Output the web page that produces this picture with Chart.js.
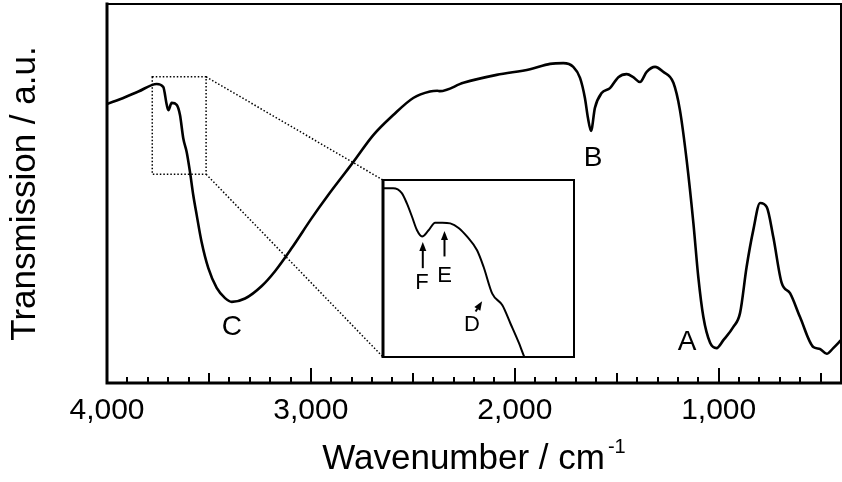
<!DOCTYPE html>
<html>
<head>
<meta charset="utf-8">
<script src="https://cdn.jsdelivr.net/npm/chart.js@4.4.1/dist/chart.umd.min.js"></script>
<style>
  html, body { margin: 0; padding: 0; background: #fff; }
  #wrap { position: relative; width: 842px; height: 482px; }
  #mainChart { position: absolute; left: 0; top: 0; }
  #insetChart { position: absolute; left: 381px; top: 178px; }
</style>
</head>
<body>
<div id="wrap">
  <canvas id="mainChart" width="842" height="482"></canvas>
  <canvas id="insetChart" width="195" height="181"></canvas>
</div>
<script>
// IR spectrum (wavenumber in cm-1, transmission in a.u. 0-100)
const wavenumbers = [4000, 3912, 3846, 3756, 3724, 3707, 3699, 3683, 3658, 3642, 3626, 3609, 3593, 3577,
  3560, 3536, 3503, 3462, 3421, 3388, 3323, 3241, 3176, 3094, 2996, 2915, 2833, 2792, 2694, 2596,
  2498, 2416, 2380, 2367, 2252, 2089, 1925, 1827, 1762, 1713, 1680, 1656, 1641, 1626, 1607, 1574,
  1533, 1492, 1451, 1419, 1386, 1353, 1312, 1272, 1222, 1190, 1157, 1124, 1100, 1075, 1042, 1010,
  977, 928, 895, 863, 830, 797, 764, 732, 691, 650, 601, 536, 503, 470, 438, 400];
const transmission = [73.6, 75.4, 76.9, 78.9, 78.1, 73.4, 72.0, 73.9, 73.4, 70.7, 64.6, 60.9, 55.7, 49.6,
  44.3, 37.2, 30.3, 25.1, 22.4, 21.4, 22.3, 25.6, 29.5, 35.6, 43.5, 49.6, 55.4, 58.3, 65.4, 70.7,
  75.2, 76.9, 77.1, 77.0, 79.2, 81.3, 82.8, 84.2, 84.4, 83.4, 80.5, 75.2, 69.9, 66.5, 72.6, 76.5,
  77.8, 80.7, 81.5, 80.7, 79.4, 82.1, 83.4, 82.1, 79.2, 72.0, 58.8, 42.2, 28.0, 17.4, 10.6, 9.2,
  11.3, 14.8, 18.5, 30.6, 40.4, 47.5, 46.4, 38.5, 26.4, 23.7, 17.4, 9.5, 9.0, 7.7, 9.2, 11.3];
const xTickValues = [4000, 3000, 2000, 1000];

// band labels on the main spectrum
const bandLabels = ['A', 'B', 'C'];
const bandWave = [1155, 1616, 3387];
const bandTrans = [10.8, 59.4, 14.8];

// dotted zoom window (wavenumber left/right, transmission bottom/top)
const zoomWave = [3778, 3514];
const zoomTrans = [55.1, 80.8];

// inset: magnified 3778-3514 cm-1 region
const insetWave = [3778, 3764, 3752, 3745, 3738, 3731, 3724, 3715, 3706, 3696, 3685, 3673, 3662,
  3648, 3639, 3627, 3613, 3602, 3590, 3583, 3575];
const insetTrans = [79.6, 79.6, 78.9, 77.4, 75.5, 73.5, 72.6, 73.5, 74.6, 74.6, 74.5, 73.8, 72.6,
  70.6, 68.2, 64.3, 62.6, 60.0, 57.1, 55.2, 53.5];
const insetLabels = ['F', 'E', 'D'];
const insetLabelWave = [3724, 3693, 3655];
const insetLabelTrans = [65.8, 66.9, 59.7];
// arrows: [fromWave, fromTrans, toWave, toTrans]
const insetArrows = [[3723, 68.0, 3723, 71.8], [3693, 69.7, 3693, 73.4], [3650, 61.7, 3641, 63.2]];

const FONT = "'Liberation Sans', Arial, sans-serif";
const insetBox = { left: 383, top: 180, right: 574, bottom: 357 };

function arrow(ctx, x1, y1, x2, y2) {
  const ang = Math.atan2(y2 - y1, x2 - x1);
  const hl = 9, hw = 3.5;
  const bx = x2 - hl * Math.cos(ang), by = y2 - hl * Math.sin(ang);
  ctx.beginPath(); ctx.moveTo(x1, y1); ctx.lineTo(bx, by); ctx.stroke();
  ctx.beginPath();
  ctx.moveTo(x2, y2);
  ctx.lineTo(bx + hw * Math.sin(ang), by - hw * Math.cos(ang));
  ctx.lineTo(bx - hw * Math.sin(ang), by + hw * Math.cos(ang));
  ctx.closePath(); ctx.fill();
}

const framePlugin = {
  id: 'frame',
  afterDraw(chart) {
    const { ctx, chartArea: a, scales: { x, y } } = chart;
    ctx.save();
    ctx.strokeStyle = '#000';
    ctx.fillStyle = '#000';
    ctx.lineCap = 'square';
    ctx.lineWidth = 2;
    ctx.beginPath(); ctx.moveTo(a.left, a.top); ctx.lineTo(a.right, a.top); ctx.lineTo(a.right, a.bottom); ctx.stroke();
    ctx.lineWidth = 3;
    ctx.beginPath(); ctx.moveTo(a.left, a.top); ctx.lineTo(a.left, a.bottom); ctx.lineTo(a.right, a.bottom); ctx.stroke();

    // inward ticks every 100 cm-1
    ctx.lineWidth = 2;
    ctx.lineCap = 'butt';
    for (let w = 400; w <= 4000; w += 100) {
      const len = w % 1000 === 0 ? 15 : (w % 500 === 0 ? 10 : 6);
      const px = Math.round(x.getPixelForValue(w));
      ctx.beginPath(); ctx.moveTo(px, a.bottom); ctx.lineTo(px, a.bottom - len); ctx.stroke();
    }

    // dotted zoom window + connectors to the inset
    const zx1 = x.getPixelForValue(zoomWave[0]), zx2 = x.getPixelForValue(zoomWave[1]);
    const zy1 = y.getPixelForValue(zoomTrans[1]), zy2 = y.getPixelForValue(zoomTrans[0]);
    ctx.lineWidth = 1.5;
    ctx.setLineDash([1.5, 2]);
    ctx.strokeRect(zx1, zy1, zx2 - zx1, zy2 - zy1);
    ctx.beginPath();
    ctx.moveTo(zx2, zy1); ctx.lineTo(insetBox.left, insetBox.top);
    ctx.moveTo(zx2, zy2); ctx.lineTo(insetBox.left, insetBox.bottom);
    ctx.stroke();
    ctx.setLineDash([]);

    // band letters
    ctx.font = '28px ' + FONT;
    ctx.textAlign = 'center';
    ctx.textBaseline = 'middle';
    bandLabels.forEach((t, i) => {
      ctx.fillText(t, x.getPixelForValue(bandWave[i]), y.getPixelForValue(bandTrans[i]));
    });

    // x axis title with superscript
    const main = 'Wavenumber / cm', sup = '-1';
    ctx.textAlign = 'left';
    ctx.textBaseline = 'alphabetic';
    ctx.font = '35px ' + FONT;
    const wMain = ctx.measureText(main).width;
    ctx.font = '20px ' + FONT;
    const wSup = ctx.measureText(sup).width;
    const cx = (a.left + a.right) / 2;
    const x0 = cx - (wMain + 3 + wSup) / 2;
    ctx.font = '35px ' + FONT;
    ctx.fillText(main, x0, 469);
    ctx.font = '20px ' + FONT;
    ctx.fillText(sup, x0 + wMain + 3, 453);
    ctx.restore();
  }
};

new Chart(document.getElementById('mainChart'), {
  type: 'line',
  data: {
    datasets: [{
      data: wavenumbers.map((w, i) => ({ x: w, y: transmission[i] })),
      borderColor: '#000',
      borderWidth: 2.6,
      pointRadius: 0,
      fill: false,
      cubicInterpolationMode: 'monotone'
    }]
  },
  options: {
    responsive: false,
    animation: false,
    devicePixelRatio: 1,
    layout: { padding: { top: 4, right: 1, left: 0, bottom: 0 } },
    plugins: { legend: { display: false }, tooltip: { enabled: false } },
    scales: {
      x: {
        type: 'linear', reverse: true, min: 400, max: 4000,
        grid: { display: false, drawTicks: false },
        border: { display: false },
        afterBuildTicks: s => { s.ticks = xTickValues.map(v => ({ value: v })); },
        ticks: {
          callback: v => v.toLocaleString('en-US'),
          font: { family: FONT, size: 30 }, color: '#000',
          padding: 10, maxRotation: 0, autoSkip: false
        },
        afterFit: s => { s.height = 99; }
      },
      y: {
        min: 0, max: 100,
        grid: { display: false },
        border: { display: false },
        ticks: { display: false },
        title: {
          display: true, text: 'Transmission / a.u.', color: '#000',
          font: { family: FONT, size: 35 }, padding: { top: 4, bottom: 0 }
        },
        afterFit: s => { s.width = 107; }
      }
    }
  },
  plugins: [framePlugin]
});

const insetPlugin = {
  id: 'insetFrame',
  afterDraw(chart) {
    const { ctx, chartArea: a, scales: { x, y } } = chart;
    ctx.save();
    ctx.strokeStyle = '#000';
    ctx.fillStyle = '#000';
    ctx.lineWidth = 2;
    ctx.strokeRect(a.left, a.top, a.right - a.left, a.bottom - a.top);
    ctx.lineWidth = 3;
    ctx.beginPath(); ctx.moveTo(a.left, a.top - 1); ctx.lineTo(a.left, a.bottom + 1); ctx.stroke();

    ctx.lineWidth = 2;
    insetArrows.forEach(([w1, t1, w2, t2]) => {
      arrow(ctx, x.getPixelForValue(w1), y.getPixelForValue(t1), x.getPixelForValue(w2), y.getPixelForValue(t2));
    });
    ctx.font = '22px ' + FONT;
    ctx.textAlign = 'center';
    ctx.textBaseline = 'middle';
    insetLabels.forEach((t, i) => {
      ctx.fillText(t, x.getPixelForValue(insetLabelWave[i]), y.getPixelForValue(insetLabelTrans[i]));
    });
    ctx.restore();
  }
};

new Chart(document.getElementById('insetChart'), {
  type: 'line',
  data: {
    datasets: [{
      data: insetWave.map((w, i) => ({ x: w, y: insetTrans[i] })),
      borderColor: '#000',
      borderWidth: 2,
      pointRadius: 0,
      fill: false,
      cubicInterpolationMode: 'monotone'
    }]
  },
  options: {
    responsive: false,
    animation: false,
    devicePixelRatio: 1,
    layout: { padding: 2 },
    plugins: { legend: { display: false }, tooltip: { enabled: false } },
    scales: {
      x: { type: 'linear', reverse: true, min: zoomWave[1], max: zoomWave[0], display: false },
      y: { min: zoomTrans[0], max: zoomTrans[1], display: false }
    }
  },
  plugins: [insetPlugin]
});
</script>
</body>
</html>
